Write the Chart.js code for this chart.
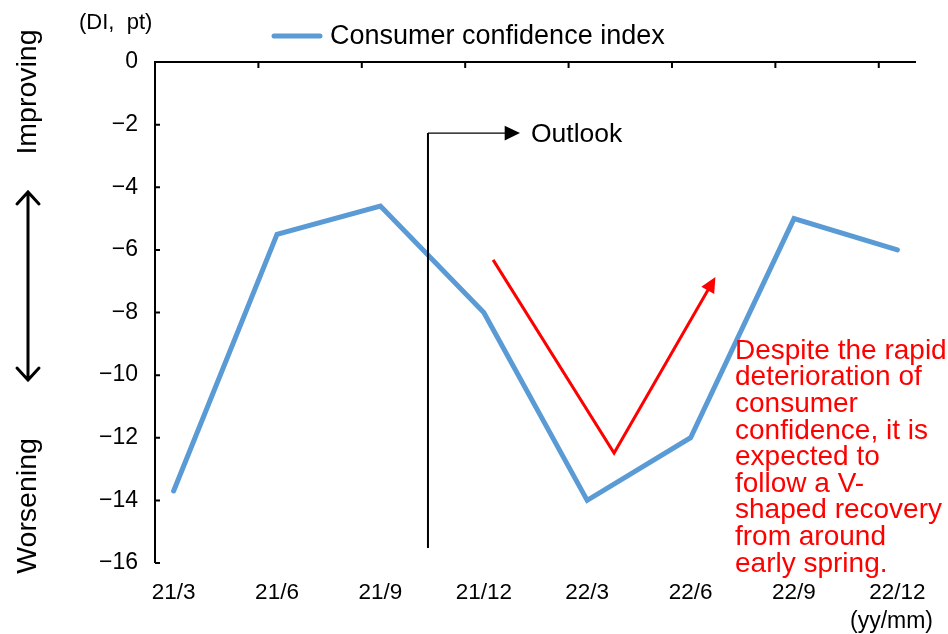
<!DOCTYPE html>
<html>
<head>
<meta charset="utf-8">
<script src="https://cdn.jsdelivr.net/npm/chart.js@4.4.1/dist/chart.umd.min.js"></script>
<style>
  html, body { margin: 0; padding: 0; background: #fff; }
  #wrap { width: 948px; height: 634px; }
</style>
</head>
<body>
<div id="wrap"><canvas id="myChart" width="948" height="634"></canvas></div>
<script>
// data
const months = ['21/3', '21/6', '21/9', '21/12', '22/3', '22/6', '22/9', '22/12'];
const confidence = [-13.7, -5.5, -4.6, -8.0, -14.0, -12.0, -5.0, -6.0];
const yTicks = [0, -2, -4, -6, -8, -10, -12, -14, -16];
const seriesName = 'Consumer confidence index';
const noteLines = ['Despite the rapid', 'deterioration of', 'consumer', 'confidence, it is',
  'expected to', 'follow a V-', 'shaped recovery', 'from around', 'early spring.'];

const FONT = '"Liberation Sans", Arial, sans-serif';
const BLUE = '#5B9BD5';

function arrowHead(ctx, x1, y1, x2, y2, size, color) {
  const a = Math.atan2(y2 - y1, x2 - x1);
  ctx.save();
  ctx.fillStyle = color;
  ctx.beginPath();
  ctx.moveTo(x2, y2);
  ctx.lineTo(x2 - size * Math.cos(a - 0.45), y2 - size * Math.sin(a - 0.45));
  ctx.lineTo(x2 - size * Math.cos(a + 0.45), y2 - size * Math.sin(a + 0.45));
  ctx.closePath();
  ctx.fill();
  ctx.restore();
}

const decor = {
  id: 'decor',
  beforeDatasetsDraw(chart) {
    const { ctx, chartArea: ca, scales: { x, y } } = chart;
    ctx.save();
    ctx.strokeStyle = '#000';
    ctx.lineWidth = 2;
    // frame: top and left axis lines
    ctx.beginPath();
    ctx.moveTo(ca.left, ca.bottom);
    ctx.lineTo(ca.left, ca.top);
    ctx.lineTo(ca.right, ca.top);
    ctx.stroke();
    // inward tick marks
    ctx.beginPath();
    for (const t of yTicks) {
      const py = y.getPixelForValue(t);
      ctx.moveTo(ca.left, py);
      ctx.lineTo(ca.left + 5, py);
    }
    for (let i = 0; i < months.length - 1; i++) {
      const px = x.getPixelForValue(i + 0.82);
      ctx.moveTo(px, ca.top);
      ctx.lineTo(px, ca.top + 6);
    }
    ctx.stroke();
    ctx.restore();
  },
  afterDraw(chart) {
    const { ctx, chartArea: ca, scales: { x, y } } = chart;
    ctx.save();
    // legend
    ctx.strokeStyle = BLUE;
    ctx.lineWidth = 5;
    ctx.lineCap = 'round';
    ctx.beginPath();
    ctx.moveTo(274, 36);
    ctx.lineTo(320, 36);
    ctx.stroke();
    ctx.fillStyle = '#000';
    ctx.font = '27px ' + FONT;
    ctx.textBaseline = 'middle';
    ctx.textAlign = 'left';
    ctx.fillText(seriesName, 330, 37);

    // unit labels
    ctx.font = '22px ' + FONT;
    ctx.fillText('(DI,  pt)', 79, 23);
    ctx.font = '23px ' + FONT;
    ctx.fillText('(yy/mm)', 850, 622);

    // outlook marker
    const ox = x.getPixelForValue(2.46);
    const oy = y.getPixelForValue(-2.27);
    ctx.strokeStyle = '#000';
    ctx.lineCap = 'butt';
    ctx.lineWidth = 2;
    ctx.beginPath();
    ctx.moveTo(ox, y.getPixelForValue(-15.52));
    ctx.lineTo(ox, oy);
    ctx.stroke();
    ctx.lineWidth = 1.2;
    ctx.beginPath();
    ctx.moveTo(ox, oy);
    ctx.lineTo(x.getPixelForValue(3.35) - 10, oy);
    ctx.stroke();
    arrowHead(ctx, ox, oy, x.getPixelForValue(3.35), oy, 17, '#000');
    ctx.font = '26.5px ' + FONT;
    ctx.fillText('Outlook', 531, 135);

    // red V arrow
    const p1 = [x.getPixelForValue(3.09), y.getPixelForValue(-6.32)];
    const p2 = [x.getPixelForValue(4.26), y.getPixelForValue(-12.49)];
    const p3 = [x.getPixelForValue(5.24), y.getPixelForValue(-6.87)];
    ctx.strokeStyle = '#FF0000';
    ctx.lineWidth = 3;
    ctx.lineJoin = 'miter';
    ctx.beginPath();
    ctx.moveTo(p1[0], p1[1]);
    ctx.lineTo(p2[0], p2[1]);
    const a = Math.atan2(p3[1] - p2[1], p3[0] - p2[0]);
    ctx.lineTo(p3[0] - 10 * Math.cos(a), p3[1] - 10 * Math.sin(a));
    ctx.stroke();
    arrowHead(ctx, p2[0], p2[1], p3[0], p3[1], 17, '#FF0000');

    // red note
    ctx.fillStyle = '#FF0000';
    ctx.font = '28px ' + FONT;
    noteLines.forEach((line, i) => ctx.fillText(line, 735, 351 + i * 26.6));

    // left side: improving / worsening
    ctx.fillStyle = '#000';
    ctx.font = '28.5px ' + FONT;
    ctx.textAlign = 'center';
    ctx.save();
    ctx.translate(28, 92);
    ctx.rotate(-Math.PI / 2);
    ctx.fillText('Improving', 0, 0);
    ctx.restore();
    ctx.save();
    ctx.translate(28, 506);
    ctx.rotate(-Math.PI / 2);
    ctx.fillText('Worsening', 0, 0);
    ctx.restore();

    // double headed arrow
    ctx.strokeStyle = '#000';
    ctx.lineWidth = 3;
    ctx.lineCap = 'round';
    ctx.lineJoin = 'miter';
    ctx.beginPath();
    ctx.moveTo(28, 192);
    ctx.lineTo(28, 380);
    ctx.moveTo(17, 204);
    ctx.lineTo(28, 192);
    ctx.lineTo(39, 204);
    ctx.moveTo(17, 368);
    ctx.lineTo(28, 380);
    ctx.lineTo(39, 368);
    ctx.stroke();
    ctx.restore();
  }
};

const data = {
  datasets: [{
    label: seriesName,
    data: confidence.map((v, i) => ({ x: i, y: v })),
    borderColor: BLUE,
    backgroundColor: BLUE,
    borderWidth: 5,
    borderCapStyle: 'round',
    borderJoinStyle: 'miter',
    pointRadius: 0,
    tension: 0,
    fill: false
  }]
};

const config = {
  type: 'line',
  data: data,
  options: {
    responsive: false,
    animation: false,
    layout: { padding: { top: 62, right: 32, left: 0, bottom: 0 } },
    plugins: { legend: { display: false }, tooltip: { enabled: false } },
    scales: {
      x: {
        type: 'linear',
        min: -0.18,
        max: 7.18,
        grid: { display: false, drawTicks: false },
        border: { display: false },
        afterBuildTicks: (scale) => { scale.ticks = months.map((m, i) => ({ value: i })); },
        afterFit: (scale) => { scale.height = 71; },
        ticks: {
          autoSkip: false,
          maxRotation: 0,
          padding: 16,
          color: '#000',
          font: { family: FONT, size: 22.5 },
          callback: (v) => months[v]
        }
      },
      y: {
        min: -16,
        max: 0,
        grid: { display: false, drawTicks: false },
        border: { display: false },
        afterBuildTicks: (scale) => { scale.ticks = yTicks.map(v => ({ value: v })); },
        afterFit: (scale) => { scale.width = 155; },
        ticks: {
          padding: 17,
          color: '#000',
          font: { family: FONT, size: 23 },
          callback: (v) => String(v).replace('-', '\u2212')
        }
      }
    }
  },
  plugins: [decor]
};

const myChart = new Chart(document.getElementById('myChart'), config);
</script>
</body>
</html>
